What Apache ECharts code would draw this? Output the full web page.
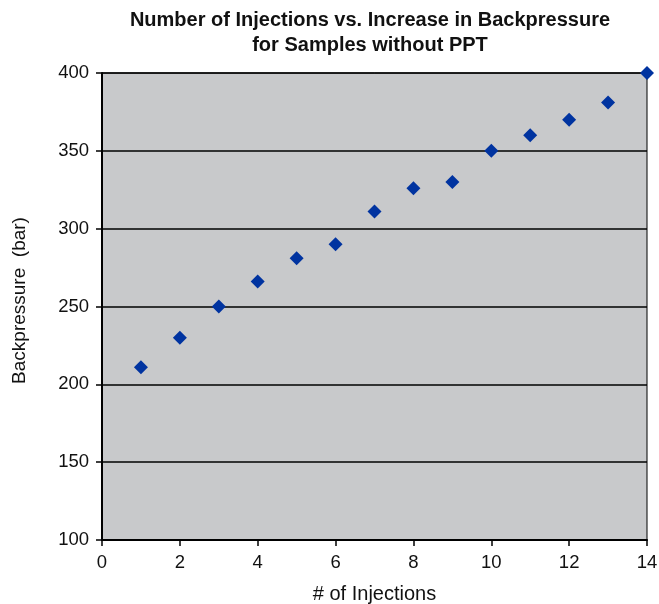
<!DOCTYPE html>
<html>
<head>
<meta charset="utf-8">
<script src="https://cdn.jsdelivr.net/npm/echarts@6/dist/echarts.min.js"></script>
<style>html,body{margin:0;padding:0;background:#fff}#c{width:659px;height:604px}</style>
</head>
<body>
<div id="c"></div>
<script>
const injections = [1, 2, 3, 4, 5, 6, 7, 8, 9, 10, 11, 12, 13, 14];
const backpressure = [211, 230, 250, 266, 281, 290, 311, 326, 330, 350, 360, 370, 381, 400];
const titleLines = ['Number of Injections vs. Increase in Backpressure', 'for Samples without PPT'];
const xName = '# of Injections';
const yName = 'Backpressure  (bar)';

const chart = echarts.init(document.getElementById('c'));
const font = 'Liberation Sans, Arial, Helvetica, sans-serif';
chart.setOption({
  animation: false,
  title: {
    text: titleLines.join('\n'),
    left: 370, top: 8, textAlign: 'center', padding: 0,
    textStyle: {fontFamily: font, fontSize: 20, fontWeight: 'bold', color: '#111', lineHeight: 25}
  },
  grid: {left: 102, right: 12, top: 73, bottom: 64, outerBoundsMode: 'none', containLabel: false,
         show: true, backgroundColor: '#C8C9CB', borderColor: '#000', borderWidth: 1},
  xAxis: {
    type: 'value', min: 0, max: 14, interval: 2,
    name: xName, nameLocation: 'middle', nameGap: 44,
    nameTextStyle: {fontFamily: font, fontSize: 20, color: '#111'},
    axisLine: {show: true, lineStyle: {color: '#000', width: 2}},
    axisTick: {show: true, inside: false, length: 6, lineStyle: {color: '#000', width: 1.5}},
    axisLabel: {fontFamily: font, fontSize: 18.5, color: '#111', margin: 13},
    splitLine: {show: false}
  },
  yAxis: {
    type: 'value', min: 100, max: 400, interval: 50,
    name: yName, nameLocation: 'middle', nameGap: 73, nameRotate: 90,
    nameTextStyle: {fontFamily: font, fontSize: 19, color: '#111', padding: [0, 0, 0, 12]},
    axisLine: {show: true, lineStyle: {color: '#000', width: 2}},
    axisTick: {show: true, length: 6, lineStyle: {color: '#000', width: 1.5}},
    axisLabel: {fontFamily: font, fontSize: 18.5, color: '#111', margin: 13},
    splitLine: {show: true, lineStyle: {color: '#000', width: 1.5}}
  },
  series: [{
    type: 'scatter',
    data: injections.map((x, i) => [x, backpressure[i]]),
    symbol: 'diamond', symbolSize: 14,
    itemStyle: {color: '#0033A0', opacity: 1},
    clip: false
  }]
});
</script>
</body>
</html>
